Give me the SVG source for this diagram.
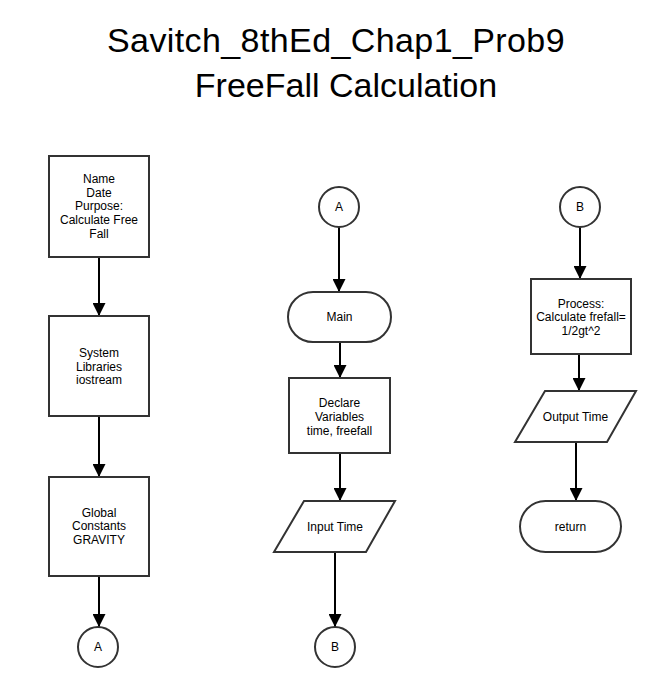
<svg xmlns="http://www.w3.org/2000/svg" width="650" height="686" viewBox="0 0 650 686">
<style>
.shape{fill:#ffffff;stroke:#333333;stroke-width:2}
.lbl{font-family:"Liberation Sans",Arial,sans-serif;font-size:12px;fill:#000000;text-anchor:middle}
.title{font-family:"Liberation Sans",Arial,sans-serif;font-size:34px;fill:#000000;text-anchor:middle}
.conn{stroke:#000000;stroke-width:2;fill:none;marker-end:url(#arrow)}
</style>
<defs>
<marker id="arrow" markerUnits="userSpaceOnUse" markerWidth="13" markerHeight="13" refX="13" refY="6.5" orient="auto">
<path d="M0,0 L13,6.5 L0,13 z" fill="#000000"/>
</marker>
</defs>
<rect width="650" height="686" fill="#ffffff"/>
<g id="title">
<text class="title" x="336" y="52" letter-spacing="0.4">Savitch_8thEd_Chap1_Prob9</text>
<text class="title" x="346" y="97">FreeFall Calculation</text>
</g>
<g id="connectors">
<line class="conn" x1="99" y1="257" x2="99" y2="316"/>
<line class="conn" x1="99" y1="416" x2="99" y2="477"/>
<line class="conn" x1="99" y1="576" x2="99" y2="627"/>
<line class="conn" x1="339" y1="227" x2="339" y2="292"/>
<line class="conn" x1="340" y1="342" x2="340" y2="378"/>
<line class="conn" x1="340" y1="453" x2="340" y2="501"/>
<line class="conn" x1="335" y1="552" x2="335" y2="627"/>
<line class="conn" x1="580" y1="227" x2="580" y2="279"/>
<line class="conn" x1="579" y1="354" x2="579" y2="391"/>
<line class="conn" x1="576" y1="442" x2="576" y2="501"/>
</g>
<g id="name-box">
<rect class="shape" x="49" y="156" width="100" height="101"/>
<text class="lbl" x="99" y="183">Name</text>
<text class="lbl" x="99" y="197">Date</text>
<text class="lbl" x="99" y="210">Purpose:</text>
<text class="lbl" x="99" y="224">Calculate Free</text>
<text class="lbl" x="99" y="238">Fall</text>
</g>
<g id="libraries-box">
<rect class="shape" x="49" y="316" width="100" height="100"/>
<text class="lbl" x="99" y="357">System</text>
<text class="lbl" x="99" y="371">Libraries</text>
<text class="lbl" x="99" y="384">iostream</text>
</g>
<g id="constants-box">
<rect class="shape" x="49" y="477" width="100" height="99"/>
<text class="lbl" x="99" y="517">Global</text>
<text class="lbl" x="99" y="530">Constants</text>
<text class="lbl" x="99" y="544">GRAVITY</text>
</g>
<g id="connector-a-out">
<circle class="shape" cx="98" cy="647" r="20"/>
<text class="lbl" x="98" y="651">A</text>
</g>
<g id="connector-a-in">
<circle class="shape" cx="339" cy="207" r="20"/>
<text class="lbl" x="339" y="211">A</text>
</g>
<g id="main-terminal">
<rect class="shape" x="288" y="292" width="103" height="50" rx="25" ry="25"/>
<text class="lbl" x="339.5" y="321">Main</text>
</g>
<g id="declare-box">
<rect class="shape" x="289" y="378" width="101" height="75"/>
<text class="lbl" x="339.5" y="407">Declare</text>
<text class="lbl" x="339.5" y="421">Variables</text>
<text class="lbl" x="339.5" y="435">time, freefall</text>
</g>
<g id="input-time">
<polygon class="shape" points="304,501 395,501 366,552 274,552"/>
<text class="lbl" x="335" y="531">Input Time</text>
</g>
<g id="connector-b-out">
<circle class="shape" cx="335" cy="647" r="20"/>
<text class="lbl" x="335" y="651">B</text>
</g>
<g id="connector-b-in">
<circle class="shape" cx="580" cy="207" r="20"/>
<text class="lbl" x="580" y="211">B</text>
</g>
<g id="process-box">
<rect class="shape" x="531" y="279" width="100" height="75"/>
<text class="lbl" x="581" y="308">Process:</text>
<text class="lbl" x="581" y="321">Calculate frefall=</text>
<text class="lbl" x="581" y="335">1/2gt^2</text>
</g>
<g id="output-time">
<polygon class="shape" points="545,391 636,391 607,442 515,442"/>
<text class="lbl" x="575.5" y="421">Output Time</text>
</g>
<g id="return-terminal">
<rect class="shape" x="520" y="501" width="101" height="51" rx="25.5" ry="25.5"/>
<text class="lbl" x="570.5" y="531">return</text>
</g>
</svg>
